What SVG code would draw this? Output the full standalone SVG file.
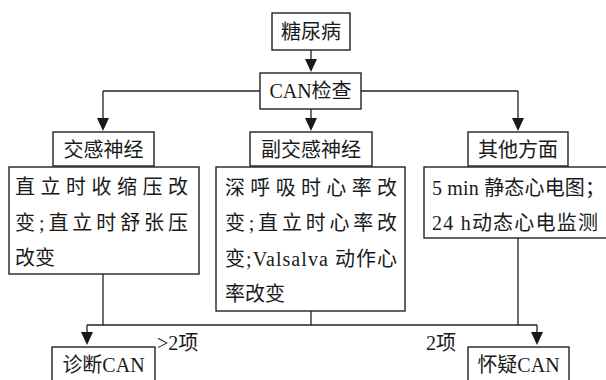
<svg xmlns="http://www.w3.org/2000/svg" width="606" height="380" viewBox="0 0 606 380">
<style>
.box{fill:#fff;stroke:#222;stroke-width:1.4}
.ln{fill:none;stroke:#222;stroke-width:1.3}
.t{font-family:"Liberation Serif","Noto Sans CJK SC",serif;font-size:20px;fill:#1a1a1a}
.c{text-anchor:middle}
</style>
<defs>
<marker id="ah" markerUnits="userSpaceOnUse" markerWidth="12" markerHeight="14" viewBox="0 0 12 14" refX="6" refY="14" orient="auto-start-reverse">
<path d="M0,0 L12,0 L6,14 Z" fill="#1a1a1a" transform="rotate(0)"/>
</marker>
</defs>
<rect width="606" height="380" fill="#fff"/>
<g id="connectors">
<line class="ln" x1="311" y1="50" x2="311" y2="59"/>
<path d="M305,59 L317,59 L311,72 Z" fill="#1a1a1a"/>
<line class="ln" x1="103" y1="91" x2="260" y2="91"/>
<line class="ln" x1="361" y1="91" x2="518" y2="91"/>
<line class="ln" x1="103" y1="91" x2="103" y2="119"/>
<path d="M97,118 L109,118 L103,131 Z" fill="#1a1a1a"/>
<line class="ln" x1="311" y1="109" x2="311" y2="119"/>
<path d="M305,118 L317,118 L311,131 Z" fill="#1a1a1a"/>
<line class="ln" x1="518" y1="91" x2="518" y2="119"/>
<path d="M512,118 L524,118 L518,131 Z" fill="#1a1a1a"/>
<line class="ln" x1="103" y1="274" x2="103" y2="325"/>
<line class="ln" x1="311" y1="311" x2="311" y2="325"/>
<line class="ln" x1="518" y1="238" x2="518" y2="325"/>
<line class="ln" x1="87" y1="325" x2="537" y2="325"/>
<line class="ln" x1="87" y1="325" x2="87" y2="333"/>
<path d="M81,332 L93,332 L87,345 Z" fill="#1a1a1a"/>
<line class="ln" x1="537" y1="325" x2="537" y2="333"/>
<path d="M531,332 L543,332 L537,345 Z" fill="#1a1a1a"/>
<text class="t" x="157" y="350">&gt;2项</text>
<text class="t" x="426" y="350">2项</text>
</g>
<g id="n-tangniaobing">
<rect class="box" x="272" y="13" width="78" height="37"/>
<text class="t c" x="311" y="39">糖尿病</text>
</g>
<g id="n-can">
<rect class="box" x="260" y="73" width="101" height="36"/>
<text class="t c" x="310.5" y="98">CAN检查</text>
</g>
<g id="n-jiaogan">
<rect class="box" x="53" y="132" width="101" height="34"/>
<text class="t c" x="103.5" y="157">交感神经</text>
</g>
<g id="n-jiaogan-body">
<rect class="box" x="9" y="167" width="190" height="107"/>
<text class="t" x="15" y="194" textLength="173" lengthAdjust="spacing">直立时收缩压改</text>
<text class="t" x="15" y="230" textLength="173" lengthAdjust="spacing">变;直立时舒张压</text>
<text class="t" x="15" y="265">改变</text>
</g>
<g id="n-fujiaogan">
<rect class="box" x="250" y="132" width="122" height="34"/>
<text class="t c" x="311" y="157">副交感神经</text>
</g>
<g id="n-fujiaogan-body">
<rect class="box" x="216" y="167" width="189" height="144"/>
<text class="t" x="225" y="195" textLength="172" lengthAdjust="spacing">深呼吸时心率改</text>
<text class="t" x="225" y="230" textLength="172" lengthAdjust="spacing">变;直立时心率改</text>
<text class="t" x="225" y="266" textLength="172" lengthAdjust="spacing">变;Valsalva 动作心</text>
<text class="t" x="225" y="301">率改变</text>
</g>
<g id="n-qita">
<rect class="box" x="468" y="132" width="100" height="34"/>
<text class="t c" x="518" y="157">其他方面</text>
</g>
<g id="n-qita-body">
<rect class="box" x="424" y="167" width="190" height="71"/>
<text class="t" x="432" y="195" textLength="173" lengthAdjust="spacing">5 min 静态心电图；</text>
<text class="t" x="432" y="230" textLength="166" lengthAdjust="spacing">24 h动态心电监测</text>
</g>
<g id="n-zhenduan">
<rect class="box" x="52" y="347" width="103" height="40"/>
<text class="t c" x="103.5" y="372">诊断CAN</text>
</g>
<g id="n-huaiyi">
<rect class="box" x="468" y="347" width="101" height="40"/>
<text class="t c" x="518.5" y="372">怀疑CAN</text>
</g>
</svg>
